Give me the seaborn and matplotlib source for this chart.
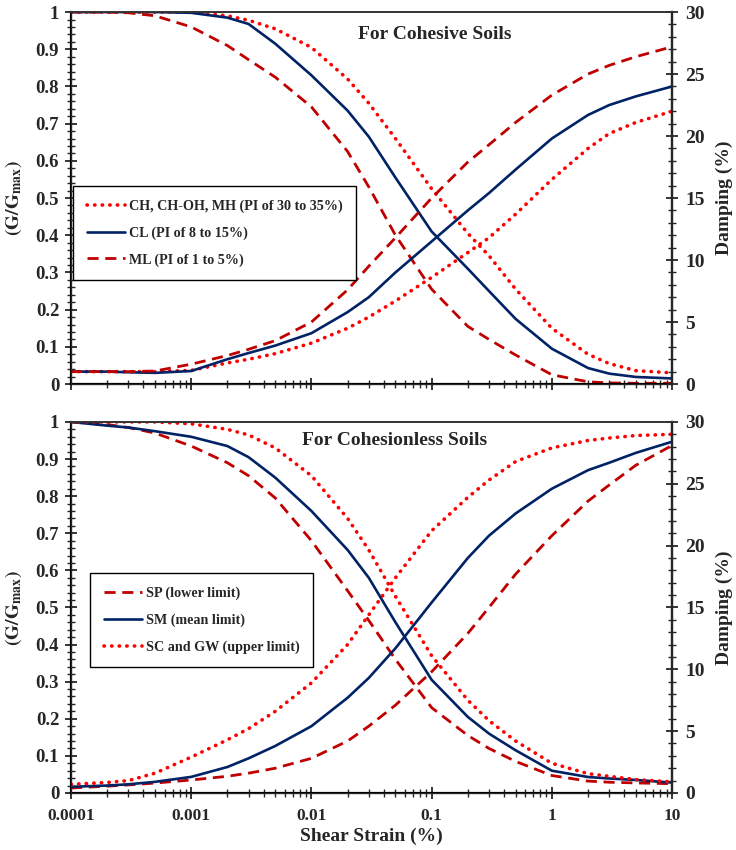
import numpy as np
import pandas as pd
import matplotlib
matplotlib.use("Agg")
import matplotlib.pyplot as plt
import seaborn as sns
from matplotlib.ticker import FixedLocator, MultipleLocator, NullFormatter, LogLocator

# ---------------- data ----------------
strain = [0.0001, 0.0002, 0.0003, 0.0005, 0.001, 0.002, 0.003, 0.005, 0.01, 0.02,
          0.03, 0.05, 0.1, 0.2, 0.3, 0.5, 1, 2, 3, 5, 10]

# Cohesive soils - modulus ratio
g_ch = [1.0, 1.0, 1.0, 1.0, 1.0, 0.99, 0.978, 0.955, 0.905, 0.82, 0.755, 0.66, 0.525,
        0.405, 0.345, 0.255, 0.15, 0.08, 0.055, 0.036, 0.03]
g_cl = [1.0, 1.0, 1.0, 1.0, 0.998, 0.985, 0.968, 0.915, 0.83, 0.735, 0.665, 0.555, 0.41,
        0.31, 0.25, 0.175, 0.095, 0.043, 0.028, 0.019, 0.015]
g_ml = [1.0, 1.0, 0.998, 0.99, 0.96, 0.91, 0.872, 0.825, 0.745, 0.625, 0.53, 0.40, 0.255,
        0.155, 0.12, 0.078, 0.025, 0.006, 0.003, 0.002, 0.002]
# Cohesive soils - damping (%)
d_ch = [1.0, 1.0, 1.0, 1.0, 1.1, 1.7, 2.0, 2.45, 3.3, 4.5, 5.4, 6.7, 8.6, 10.6, 11.8,
        13.7, 16.5, 19.0, 20.2, 21.1, 22.0]
d_cl = [1.0, 1.0, 0.95, 0.9, 1.05, 2.0, 2.5, 3.1, 4.1, 5.8, 7.0, 9.0, 11.5, 14.0, 15.4,
        17.3, 19.8, 21.7, 22.5, 23.2, 24.0]
d_ml = [1.0, 1.0, 1.0, 1.05, 1.6, 2.3, 2.8, 3.5, 5.0, 7.6, 9.5, 11.8, 15.0, 17.9, 19.3,
        21.1, 23.3, 25.0, 25.7, 26.4, 27.2]

# Cohesionless soils - modulus ratio
g_sp = [1.0, 0.993, 0.985, 0.97, 0.935, 0.89, 0.855, 0.795, 0.68, 0.545, 0.465, 0.36,
        0.23, 0.155, 0.12, 0.085, 0.047, 0.032, 0.029, 0.027, 0.025]
g_sm = [1.0, 0.99, 0.985, 0.975, 0.96, 0.935, 0.905, 0.85, 0.76, 0.655, 0.58, 0.46,
        0.305, 0.205, 0.16, 0.115, 0.06, 0.043, 0.039, 0.035, 0.028]
g_sc = [1.0, 1.0, 1.0, 1.0, 0.995, 0.98, 0.965, 0.93, 0.855, 0.74, 0.655, 0.53, 0.37,
        0.25, 0.195, 0.14, 0.08, 0.052, 0.045, 0.036, 0.03]
# Cohesionless soils - damping (%)
d_sp = [0.4, 0.55, 0.65, 0.8, 1.05, 1.35, 1.6, 2.0, 2.8, 4.2, 5.4, 7.1, 9.8, 12.9,
        15.0, 17.7, 20.8, 23.6, 24.9, 26.5, 28.1]
d_sm = [0.5, 0.6, 0.7, 0.9, 1.3, 2.1, 2.8, 3.8, 5.4, 7.7, 9.3, 11.7, 15.4, 19.0, 20.8,
        22.6, 24.6, 26.1, 26.7, 27.5, 28.4]
d_sc = [0.7, 0.85, 1.0, 1.6, 2.9, 4.3, 5.2, 6.6, 8.9, 12.0, 14.4, 17.4, 21.2, 23.9,
        25.3, 26.8, 27.9, 28.5, 28.7, 28.9, 29.0]

labels_top = ["CH, CH-OH, MH (PI of 30 to 35%)", "CL (PI of 8 to 15%)", "ML (PI of 1 to 5%)"]
labels_bot = ["SP (lower limit)", "SM (mean limit)", "SC and GW (upper limit)"]
x_ticks = [0.0001, 0.001, 0.01, 0.1, 1, 10]
x_ticklabels = ["0.0001", "0.001", "0.01", "0.1", "1", "10"]

# ---------------- style ----------------
sns.set_style("ticks")
plt.rcParams['font.family'] = ['Liberation Serif', 'DejaVu Serif']
plt.rcParams['font.weight'] = 'bold'
plt.rcParams['mathtext.fontset'] = 'stix'

RED_DOT = "#FF0000"
NAVY = "#002366"
RED_DASH = "#C00000"
DOT = dict(color=RED_DOT, linestyle=(0, (0.1, 2.0)), linewidth=2.6, dash_capstyle='round')
SOLID = dict(color=NAVY, linestyle='-', linewidth=1.9)
DASH = dict(color=RED_DASH, linestyle=(0, (4, 2.4)), linewidth=2.0)

fig = plt.figure(figsize=(7.36, 8.5), dpi=100)
ax_top = fig.add_axes([0.0965, 0.5482, 0.8166, 0.4376])
ax_bot = fig.add_axes([0.0965, 0.0671, 0.8166, 0.4365])


def line(ax, y, style, label=None):
    df = pd.DataFrame({"x": strain, "y": y})
    sns.lineplot(data=df, x="x", y="y", ax=ax, label=label, legend=False,
                 estimator=None, sort=False, **style)


def setup(ax, show_xlabels):
    ax.set_xscale('log')
    ax.set_xlim(0.0001, 10)
    ax.set_ylim(0, 1)
    ax.xaxis.set_major_locator(FixedLocator(x_ticks))
    ax.xaxis.set_minor_locator(LogLocator(base=10, subs=np.arange(2, 10)))
    ax.xaxis.set_minor_formatter(NullFormatter())
    if show_xlabels:
        ax.set_xticklabels(x_ticklabels)
        ax.set_xlabel("Shear Strain (%)", fontsize=14, fontweight='bold', labelpad=3)
    else:
        ax.set_xticklabels([])
        ax.set_xlabel("")
    ax.set_yticks(np.round(np.arange(0, 1.01, 0.1), 1))
    ax.set_yticklabels(["0", "0.1", "0.2", "0.3", "0.4", "0.5", "0.6", "0.7", "0.8", "0.9", "1"])
    ax.yaxis.set_minor_locator(MultipleLocator(0.02))
    ax.tick_params(axis='x', which='major', direction='inout', length=9, width=1.3,
                   labelsize=12.5, pad=6)
    ax.tick_params(axis='x', which='minor', direction='inout', length=6, width=1.0)
    ax.tick_params(axis='y', which='major', direction='inout', length=9, width=1.3,
                   labelsize=13.5, pad=4)
    ax.tick_params(axis='y', which='minor', direction='inout', length=6, width=1.0)
    for lab in ax.get_xticklabels() + ax.get_yticklabels():
        lab.set_fontweight('bold')
    ax.set_ylabel(r'$\mathbf{(G/G_{max})}$', fontsize=14, labelpad=8)
    for s in ['left', 'bottom']:
        ax.spines[s].set_linewidth(1.6)
        ax.spines[s].set_color('black')
    ax.spines['top'].set_linewidth(1.2)
    ax.spines['top'].set_color('#333333')
    ax.spines['right'].set_linewidth(1.6)


def setup_twin(tw):
    tw.set_ylim(0, 30)
    tw.yaxis.set_major_locator(MultipleLocator(5))
    tw.yaxis.set_minor_locator(MultipleLocator(1))
    tw.tick_params(axis='y', which='major', direction='inout', length=9, width=1.3,
                   labelsize=14, pad=5)
    tw.tick_params(axis='y', which='minor', direction='inout', length=6, width=1.0)
    for lab in tw.get_yticklabels():
        lab.set_fontweight('bold')
    tw.set_ylabel("Damping (%)", fontsize=14, fontweight='bold', labelpad=8)
    tw.spines['right'].set_linewidth(1.6)
    tw.spines['top'].set_linewidth(1.2)
    tw.spines['top'].set_color('#333333')


def make_legend(ax, tw, anchor):
    h, l = ax.get_legend_handles_labels()
    leg = tw.legend(h, l, loc='upper left', bbox_to_anchor=anchor,
                    borderaxespad=0, fontsize=10.2, frameon=True, fancybox=False,
                    edgecolor='black', framealpha=1, handlelength=2.7,
                    labelspacing=0.95, borderpad=0.95, handletextpad=0.25)
    leg.get_frame().set_linewidth(1.0)
    for t in leg.get_texts():
        t.set_fontweight('bold')


# ---- top panel ----
tw_top = ax_top.twinx()
line(ax_top, g_ch, DOT, labels_top[0])
line(ax_top, g_cl, SOLID, labels_top[1])
line(ax_top, g_ml, DASH, labels_top[2])
line(tw_top, d_ch, DOT)
line(tw_top, d_cl, SOLID)
line(tw_top, d_ml, DASH)
setup(ax_top, False)
setup_twin(tw_top)
tw_top.set_xlim(0.0001, 10)
ax_top.text(0.606, 0.94, "For Cohesive Soils", transform=ax_top.transAxes,
            ha='center', va='center', fontsize=14, fontweight='bold')
make_legend(ax_top, tw_top, (0.004, 0.533))

# ---- bottom panel ----
tw_bot = ax_bot.twinx()
line(ax_bot, g_sp, DASH, labels_bot[0])
line(ax_bot, g_sm, SOLID, labels_bot[1])
line(ax_bot, g_sc, DOT, labels_bot[2])
line(tw_bot, d_sp, DASH)
line(tw_bot, d_sm, SOLID)
line(tw_bot, d_sc, DOT)
setup(ax_bot, True)
setup_twin(tw_bot)
tw_bot.set_xlim(0.0001, 10)
ax_bot.text(0.538, 0.949, "For Cohesionless Soils", transform=ax_bot.transAxes,
            ha='center', va='center', fontsize=14, fontweight='bold')
make_legend(ax_bot, tw_bot, (0.032, 0.593))

fig.savefig("out.png", dpi=100)
